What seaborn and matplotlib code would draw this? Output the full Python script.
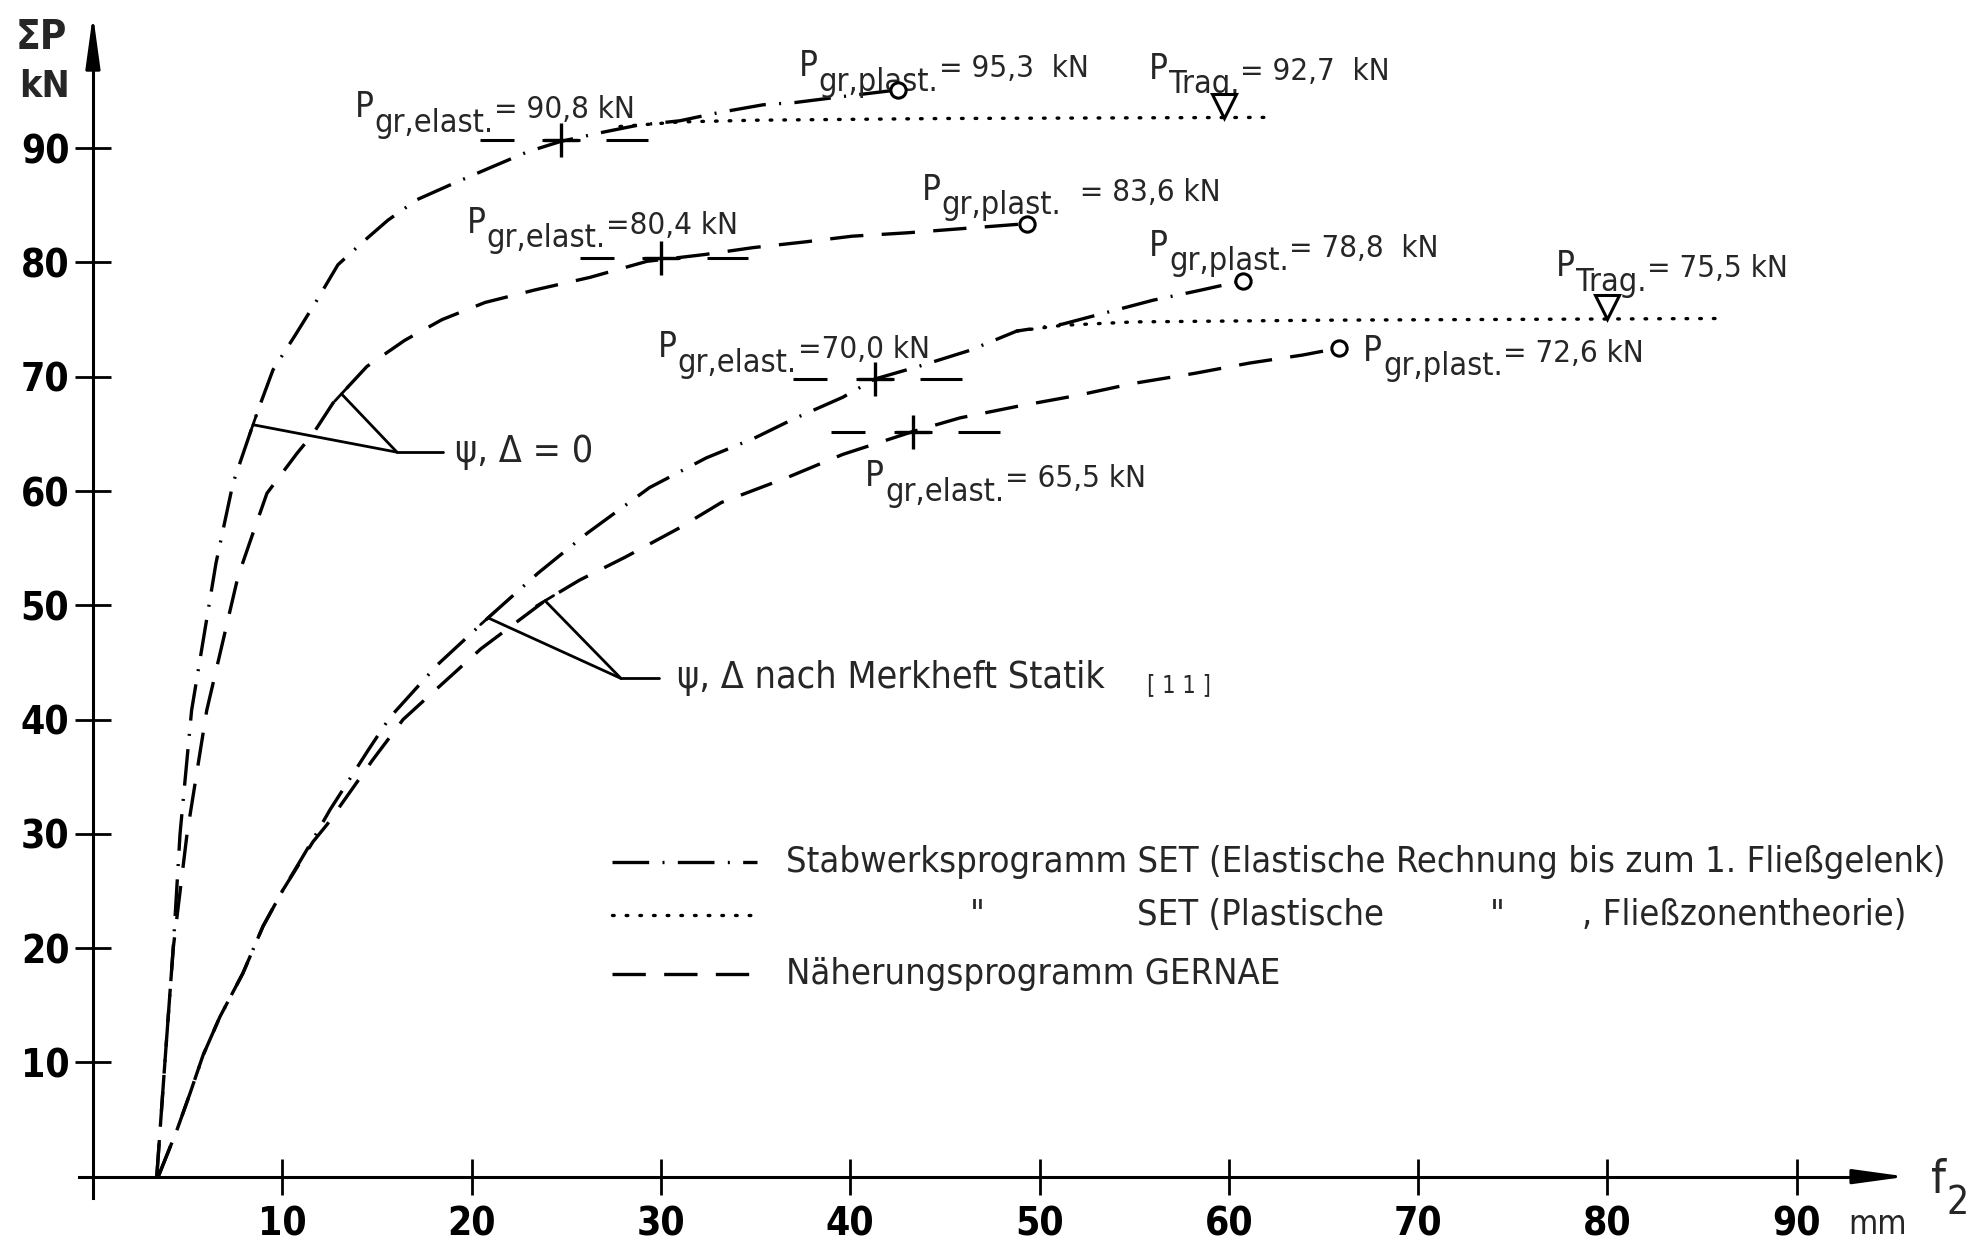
import os
import matplotlib
matplotlib.use("Agg")
import matplotlib.pyplot as plt
import matplotlib.transforms as mtrans
from matplotlib import font_manager as fm
import numpy as np
import pandas as pd
import seaborn as sns

# ---------------- data ----------------
# psi, Delta = 0 : SET elastic (dash-dot)
a_x = [3.37, 3.80, 4.24, 4.60, 5.21, 6.50, 7.40, 8.66, 9.51, 10.67, 11.83, 12.94, 14.26,
       15.58, 17.12, 19.02, 21.13, 22.98, 24.72, 26.94, 28.74, 31.0, 33.0, 35.4, 37.1, 39.5, 42.5]
a_y = [0, 10, 20, 30, 40.8, 53.7, 60.7, 66.8, 70.6, 73.6, 76.7, 79.8, 81.8,
       83.7, 85.5, 86.9, 88.4, 89.7, 90.6, 91.4, 92.0, 92.4, 93.1, 93.8, 94.0, 94.5, 95.1]
# psi, Delta = 0 : GERNAE (dashed)
b_x = [3.37, 3.80, 4.24, 4.97, 6.01, 7.66, 8.45, 9.19, 10.78, 11.62, 12.68, 14.47, 16.48,
       18.44, 20.71, 23.35, 26.26, 29.26, 32.33, 34.87, 37.61, 40.1, 43.05, 49.34]
b_y = [0, 10, 20, 30, 40.8, 52.5, 56.3, 59.8, 63.3, 65.0, 67.7, 70.9, 73.2,
       75.0, 76.5, 77.6, 78.7, 80.1, 80.7, 81.3, 81.8, 82.3, 82.6, 83.4]
# Merkheft Statik : SET elastic (dash-dot)
c_x = [3.45, 4.44, 5.13, 5.81, 6.71, 7.92, 8.98, 10.04, 11.62, 12.52, 14.53, 15.69, 18.2,
       20.87, 23.5, 26.1, 29.4, 32.4, 34.9, 37.0, 39.6, 41.3, 43.6, 46.3, 48.8, 51.2, 52.8,
       56.0, 58.3, 60.75]
c_y = [0, 4.1, 7.3, 10.6, 14.0, 17.8, 21.9, 25.1, 29.5, 32.1, 37.3, 40.2, 44.8,
       48.9, 52.8, 56.3, 60.3, 62.9, 64.6, 66.3, 68.2, 69.8, 70.9, 72.3, 74.0, 74.6, 75.3,
       76.7, 77.5, 78.4]
# Merkheft Statik : GERNAE (dashed)
d_x = [3.45, 4.44, 5.13, 5.81, 6.71, 7.92, 8.98, 10.04, 11.62, 12.36, 14.79, 16.38, 17.7,
       20.5, 23.88, 25.7, 28.1, 30.9, 33.2, 36.7, 39.6, 43.3, 45.8, 48.8, 52.1, 54.9, 58.2,
       61.1, 63.9, 65.8]
d_y = [0, 4.1, 7.3, 10.6, 14.0, 17.8, 21.9, 25.1, 29.3, 30.8, 36.5, 40.0, 42.0,
       46.2, 50.4, 52.2, 54.2, 56.7, 59.0, 61.2, 63.2, 65.2, 66.4, 67.4, 68.4, 69.4, 70.3,
       71.2, 71.9, 72.5]
# SET plastic (dotted)
e_x = [27.84, 31.0, 35.0, 45.0, 62.3]
e_y = [91.9, 92.3, 92.45, 92.6, 92.7]
g_x = [48.8, 51.2, 55.0, 65.0, 86.3]
g_y = [74.0, 74.5, 74.8, 74.95, 75.1]

elast_x = [24.72, 30.01, 41.3, 43.3]
elast_y = [90.7, 80.4, 69.8, 65.2]
plast_x = [42.5, 49.34, 60.75, 65.8]
plast_y = [95.1, 83.4, 78.4, 72.5]
trag_x = [59.75, 80.0]
trag_y = [92.7, 75.1]

# labels: (subscript, rest)
elast_sub = ["gr,elast.", "gr,elast.", "gr,elast.", "gr,elast."]
elast_val = ["= 90,8 kN", "=80,4 kN", "=70,0 kN", "= 65,5 kN"]
elast_lab_x = [13.84, 19.74, 29.85, 40.8]
elast_lab_y = [92.7, 82.6, 71.7, 60.4]
plast_sub = ["gr,plast.", "gr,plast.", "gr,plast.", "gr,plast."]
plast_val = ["= 95,3  kN", "  = 83,6 kN", "= 78,8  kN", "= 72,6 kN"]
plast_lab_x = [37.3, 43.8, 55.8, 67.1]
plast_lab_y = [96.3, 85.5, 80.6, 71.4]
trag_sub = ["Trag.", "Trag."]
trag_val = ["= 92,7  kN", "= 75,5 kN"]
trag_lab_x = [55.8, 77.3]
trag_lab_y = [96.1, 78.8]

x_ticks = [10, 20, 30, 40, 50, 60, 70, 80, 90]
y_ticks = [10, 20, 30, 40, 50, 60, 70, 80, 90]

legend_rows = ["Stabwerksprogramm SET (Elastische Rechnung bis zum 1. Fließgelenk)",
               None,
               "Näherungsprogramm GERNAE"]
legend_row2 = ['"', "SET (Plastische", '"', ", Fließzonentheorie)"]
legend_row2_x = [46.3, 55.15, 73.8, 78.66]

# ---------------- fonts: find a narrow face ----------------
sns.set_style("white")
_files = {os.path.basename(f.fname).lower(): f.fname for f in fm.fontManager.ttflist}
_pairs = [
    ("liberationsansnarrow-regular.ttf", "liberationsansnarrow-bold.ttf"),
    ("notosans-condensed.ttf", "notosans-condensedbold.ttf"),
    ("notosans-condensedmedium.ttf", "notosans-condensedbold.ttf"),
    ("dejavusanscondensed.ttf", "dejavusanscondensed-bold.ttf"),
    ("robotocondensed-regular.ttf", "robotocondensed-bold.ttf"),
    ("opensans_condensed-regular.ttf", "opensans_condensed-bold.ttf"),
    ("roboto-regular.ttf", "roboto-bold.ttf"),
]
REG = BOLD = None
for r, b in _pairs:
    if r in _files:
        REG = _files[r]
        BOLD = _files.get(b, REG)
        break
if REG is None:
    REG = fm.findfont("DejaVu Sans")
    BOLD = fm.findfont(fm.FontProperties(family="DejaVu Sans", weight="bold"))


def fp(size, bold=False):
    return fm.FontProperties(fname=BOLD if bold else REG, size=size)


LW = 2.4
DASHDOT = (11, 4, 0.6, 4)
DASHED = (10, 5.5)
DOTTED = (0.5, 3.6)

fig = plt.figure(figsize=(19.88, 12.42), dpi=100)
ax = fig.add_axes([0, 0, 1, 1])
ax.set_xlim(-4.91, 100.1)
ax.set_ylim(-5.72, 102.97)

curves = pd.concat([
    pd.DataFrame({"f": a_x, "P": a_y, "curve": "A"}),
    pd.DataFrame({"f": b_x, "P": b_y, "curve": "B"}),
    pd.DataFrame({"f": c_x, "P": c_y, "curve": "C"}),
    pd.DataFrame({"f": d_x, "P": d_y, "curve": "D"}),
], ignore_index=True)
sns.lineplot(data=curves, x="f", y="P", style="curve",
             dashes={"A": DASHDOT, "B": DASHED, "C": DASHDOT, "D": DASHED},
             color="black", lw=LW, estimator=None, sort=False, legend=False, ax=ax)

dots = pd.concat([
    pd.DataFrame({"f": e_x, "P": e_y, "curve": "E"}),
    pd.DataFrame({"f": g_x, "P": g_y, "curve": "G"}),
], ignore_index=True)
sns.lineplot(data=dots, x="f", y="P", style="curve", dashes={"E": DOTTED, "G": DOTTED},
             color="black", lw=LW, estimator=None, sort=False, legend=False, ax=ax,
             dash_capstyle="round")

# elastic limit: "—  +  —"
for x, y in zip(elast_x, elast_y):
    ax.plot([x - 4.3, x - 2.5], [y, y], color="black", lw=2.2, solid_capstyle="butt")
    ax.plot([x + 2.4, x + 4.6], [y, y], color="black", lw=2.2, solid_capstyle="butt")
    ax.plot([x - 1.0, x + 1.0], [y, y], color="black", lw=2.2, solid_capstyle="butt")
sns.scatterplot(x=elast_x, y=elast_y, marker="+", s=24 ** 2, color="black",
                linewidth=2.4, ax=ax, zorder=5, legend=False)
# plastic limit circles
sns.scatterplot(x=plast_x, y=plast_y, marker="o", s=11 ** 2, facecolor="white",
                edgecolor="black", linewidth=2.2, ax=ax, zorder=6, legend=False)
# P_Trag triangles (tip on the dotted line)
TRI = 17
tri_tr = mtrans.offset_copy(ax.transData, fig=fig, y=TRI / 2, units="points")
ax.plot(trag_x, trag_y, linestyle="none", marker="v", ms=TRI, mfc="white",
        mec="black", mew=2.2, transform=tri_tr, zorder=6)


# labels "P" + lowered subscript + value
def p_label(x, y, sub, rest, size):
    tP = ax.text(x, y, "P", fontproperties=fp(size), ha="left", va="baseline")
    tS = ax.annotate(sub, xy=(1, 0), xycoords=tP, xytext=(0.5, -0.42 * size),
                     textcoords="offset points", fontproperties=fp(size * 0.93),
                     ha="left", va="bottom")
    ax.annotate(rest, xy=(1, 0), xycoords=(tS, tP), xytext=(0.5, 0),
                textcoords="offset points", fontproperties=fp(size * 0.9),
                ha="left", va="bottom")


ANN = 25
for subs, vals, xs, ys in [(elast_sub, elast_val, elast_lab_x, elast_lab_y),
                           (plast_sub, plast_val, plast_lab_x, plast_lab_y),
                           (trag_sub, trag_val, trag_lab_x, trag_lab_y)]:
    for s, v, x, y in zip(subs, vals, xs, ys):
        p_label(x, y, s, v, ANN)


# ---------------- leader lines ----------------
def on_curve(xs, ys, p):
    return float(np.interp(p, ys, xs))


def curve_tick(xs, ys, p, half_px=10):
    x0 = on_curve(xs, ys, p)
    x1 = on_curve(xs, ys, p + 1.5)
    pa = ax.transData.transform((x0, p))
    pb = ax.transData.transform((x1, p + 1.5))
    v = (pb - pa) / np.hypot(*(pb - pa)) * half_px
    inv = ax.transData.inverted()
    q0 = inv.transform(pa - v)
    q1 = inv.transform(pa + v)
    ax.plot([q0[0], q1[0]], [q0[1], q1[1]], color="black", lw=2.0)
    return x0


LL = 2.0
junc0 = (16.06, 63.4)
for xs, ys, p in [(a_x, a_y, 65.8), (b_x, b_y, 68.5)]:
    x0 = curve_tick(xs, ys, p)
    ax.plot([x0, junc0[0]], [p, junc0[1]], color="black", lw=LL)
ax.plot([junc0[0], 18.49], [junc0[1], junc0[1]], color="black", lw=LL)
ax.text(19.1, junc0[1], "ψ, Δ = 0", fontproperties=fp(27), ha="left", va="center")

junc1 = (27.89, 43.6)
for xs, ys, p in [(c_x, c_y, 48.9), (d_x, d_y, 50.4)]:
    x0 = curve_tick(xs, ys, p)
    ax.plot([x0, junc1[0]], [p, junc1[1]], color="black", lw=LL)
ax.plot([junc1[0], 29.9], [junc1[1], junc1[1]], color="black", lw=LL)
ax.text(30.85, junc1[1], "ψ, Δ nach Merkheft Statik", fontproperties=fp(27),
        ha="left", va="center")
ax.text(55.7, 43.0, "[ 1 1 ]", fontproperties=fp(17), ha="left", va="center")

# ---------------- legend ----------------
LEG_X0, LEG_X1, LEG_TX = 27.4, 35.1, 36.6
leg_y = [27.5, 22.9, 17.7]
for y, st, cap in zip(leg_y, [DASHDOT, DOTTED, DASHED], ["butt", "round", "butt"]):
    ax.plot([LEG_X0, LEG_X1], [y, y], color="black", lw=LW, dashes=st, dash_capstyle=cap)
LEGF = 26
ax.text(LEG_TX, leg_y[0], legend_rows[0], fontproperties=fp(LEGF), ha="left", va="center")
for s, x in zip(legend_row2, legend_row2_x):
    ax.text(x, leg_y[1], s, fontproperties=fp(LEGF), ha="left", va="center")
ax.text(LEG_TX, leg_y[2], legend_rows[2], fontproperties=fp(LEGF), ha="left", va="center")

# ---------------- axes ----------------
for side in ["top", "right"]:
    ax.spines[side].set_visible(False)
ax.spines["left"].set_position(("data", 0))
ax.spines["bottom"].set_position(("data", 0))
ax.spines["left"].set_bounds(-1.9, 99)
ax.spines["bottom"].set_bounds(-0.76, 94.5)
for side in ["left", "bottom"]:
    ax.spines[side].set_linewidth(2.2)
    ax.spines[side].set_color("black")
ax.set_xticks(x_ticks)
ax.set_xticklabels([str(t) for t in x_ticks])
ax.set_yticks(y_ticks)
ax.set_yticklabels([str(t) for t in y_ticks])
ax.tick_params(axis="both", which="major", direction="inout", length=26, width=2,
               colors="black", bottom=True, left=True)
ax.tick_params(axis="x", pad=8)
ax.tick_params(axis="y", pad=4)
for lab in ax.get_xticklabels() + ax.get_yticklabels():
    lab.set_fontproperties(fp(28, True))
ax.set_xlabel("")
ax.set_ylabel("")

arr = dict(arrowstyle="-|>,head_length=1.6,head_width=0.22", color="black", lw=2.2,
           mutation_scale=20, shrinkA=0, shrinkB=0)
ax.annotate("", xy=(0, 101.7), xytext=(0, 97.0), arrowprops=arr)
ax.annotate("", xy=(95.8, 0), xytext=(93.5, 0), arrowprops=arr)

ax.text(-4.07, 99.65, "ΣP", fontproperties=fp(29, True), ha="left", va="center")
ax.text(-3.9, 95.4, "kN", fontproperties=fp(27, True), ha="left", va="center")
ax.text(92.7, -4.15, "mm", fontproperties=fp(24), ha="left", va="center")
tf = ax.text(97.1, -0.3, "f", fontproperties=fp(34), ha="left", va="center")
ax.annotate("2", xy=(1, 0), xycoords=tf, xytext=(0, -14), textcoords="offset points",
            fontproperties=fp(28), ha="left", va="bottom")

fig.savefig("out.png", dpi=100, facecolor="white")
